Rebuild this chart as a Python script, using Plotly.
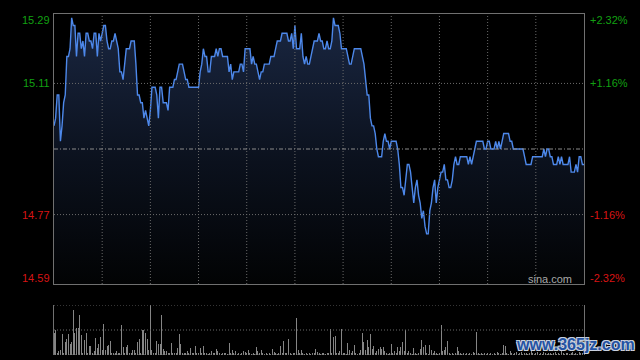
import plotly.graph_objects as go

# ---------------- data ----------------
prices = [
    15.00, 15.02, 15.08, 15.08, 14.96, 15.00, 15.06, 15.08, 15.18, 15.18,
    15.20, 15.28, 15.26, 15.26, 15.18, 15.24, 15.24, 15.20, 15.22, 15.18,
    15.24, 15.24, 15.22, 15.22, 15.20, 15.24, 15.24, 15.18, 15.24, 15.22,
    15.24, 15.26, 15.26, 15.22, 15.20, 15.20, 15.22, 15.22, 15.24, 15.22,
    15.20, 15.14, 15.14, 15.12, 15.16, 15.20, 15.20, 15.20, 15.22, 15.22,
    15.22, 15.16, 15.08, 15.08, 15.06, 15.06, 15.02, 15.04, 15.02, 15.00,
    15.04, 15.10, 15.10, 15.10, 15.08, 15.02, 15.10, 15.10, 15.06, 15.06,
    15.06, 15.04, 15.10, 15.10, 15.10, 15.12, 15.12, 15.14, 15.16, 15.16,
    15.16, 15.14, 15.12, 15.12, 15.10, 15.10, 15.10, 15.10, 15.10, 15.10,
    15.10, 15.14, 15.16, 15.20, 15.18, 15.18, 15.14, 15.14, 15.18, 15.18,
    15.18, 15.20, 15.18, 15.20, 15.20, 15.18, 15.18, 15.18, 15.18, 15.14,
    15.16, 15.12, 15.14, 15.14, 15.14, 15.14, 15.16, 15.16, 15.14, 15.20,
    15.20, 15.20, 15.20, 15.16, 15.18, 15.16, 15.16, 15.14, 15.12, 15.14,
    15.14, 15.16, 15.16, 15.16, 15.16, 15.18, 15.18, 15.18, 15.20, 15.22,
    15.22, 15.22, 15.24, 15.24, 15.24, 15.24, 15.22, 15.22, 15.24, 15.20,
    15.26, 15.20, 15.20, 15.20, 15.24, 15.18, 15.16, 15.18, 15.16, 15.16,
    15.18, 15.20, 15.22, 15.22, 15.22, 15.24, 15.22, 15.22, 15.20, 15.20,
    15.22, 15.20, 15.20, 15.22, 15.28, 15.26, 15.26, 15.26, 15.24, 15.20,
    15.20, 15.20, 15.20, 15.18, 15.16, 15.16, 15.18, 15.20, 15.20, 15.20,
    15.20, 15.20, 15.18, 15.16, 15.12, 15.08, 15.08, 15.02, 15.00, 15.00,
    14.98, 14.94, 14.92, 14.92, 14.92, 14.96, 14.98, 14.96, 14.96, 14.94,
    14.96, 14.96, 14.96, 14.96, 14.94, 14.90, 14.84, 14.84, 14.82, 14.86,
    14.90, 14.90, 14.88, 14.84, 14.80, 14.84, 14.86, 14.82, 14.80, 14.76,
    14.78, 14.74, 14.72, 14.72, 14.78, 14.80, 14.84, 14.86, 14.80, 14.84,
    14.86, 14.88, 14.88, 14.90, 14.86, 14.86, 14.84, 14.84, 14.86, 14.90,
    14.92, 14.90, 14.90, 14.92, 14.92, 14.92, 14.92, 14.92, 14.90, 14.92,
    14.90, 14.92, 14.94, 14.96, 14.96, 14.96, 14.96, 14.96, 14.94, 14.94,
    14.96, 14.96, 14.94, 14.94, 14.94, 14.96, 14.94, 14.96, 14.94, 14.96,
    14.98, 14.98, 14.98, 14.98, 14.96, 14.96, 14.94, 14.94, 14.94, 14.94,
    14.94, 14.94, 14.94, 14.92, 14.90, 14.90, 14.90, 14.90, 14.92, 14.92,
    14.92, 14.92, 14.92, 14.92, 14.92, 14.94, 14.92, 14.94, 14.94, 14.92,
    14.92, 14.90, 14.90, 14.90, 14.92, 14.90, 14.92, 14.90, 14.90, 14.90,
    14.90, 14.92, 14.88, 14.88, 14.88, 14.90, 14.88, 14.92, 14.92, 14.90,
    14.90,
]

volumes = [
    43, 51, 4, 7, 10, 41, 3, 25, 32, 41,
    21, 25, 90, 43, 55, 55, 80, 40, 3, 30,
    43, 3, 18, 18, 3, 7, 33, 13, 21, 36,
    10, 63, 10, 18, 20, 28, 3, 3, 3, 8,
    3, 3, 61, 15, 3, 15, 20, 3, 3, 10,
    10, 3, 25, 32, 3, 51, 51, 43, 32, 10,
    100, 10, 3, 4, 28, 21, 21, 81, 11, 7,
    7, 3, 3, 23, 3, 3, 3, 13, 41, 21,
    3, 3, 3, 8, 3, 13, 3, 3, 17, 3,
    3, 13, 3, 17, 3, 3, 2, 3, 7, 3,
    3, 11, 7, 3, 2, 3, 3, 3, 2, 23,
    3, 10, 3, 7, 2, 3, 2, 3, 7, 5,
    3, 10, 3, 2, 3, 2, 15, 7, 3, 10,
    3, 2, 3, 2, 3, 2, 11, 5, 3, 2,
    3, 17, 3, 28, 3, 3, 32, 3, 2, 3,
    3, 75, 10, 3, 10, 3, 2, 3, 2, 3,
    2, 3, 3, 12, 5, 3, 2, 4, 3, 2,
    3, 3, 53, 3, 35, 38, 3, 3, 8, 53,
    3, 3, 2, 23, 10, 3, 7, 20, 3, 2,
    3, 10, 43, 25, 10, 30, 15, 41, 11, 18,
    3, 8, 11, 15, 11, 15, 7, 3, 2, 3,
    21, 3, 7, 3, 15, 8, 15, 25, 7, 50,
    3, 7, 3, 2, 13, 3, 2, 3, 12, 30,
    15, 19, 3, 2, 19, 10, 3, 8, 3, 2,
    3, 60, 7, 10, 15, 28, 3, 2, 3, 2,
    3, 15, 7, 3, 2, 3, 2, 3, 2, 3,
    2, 5, 3, 47, 3, 2, 3, 2, 3, 2,
    3, 2, 3, 2, 3, 2, 5, 3, 2, 3,
    20, 17, 3, 2, 8, 3, 2, 3, 5, 2,
    3, 6, 2, 3, 4, 2, 3, 8, 3, 2,
    3, 5, 2, 3, 2, 6, 3, 2, 3, 4,
    2, 3, 5, 2, 3, 2, 7, 3, 2, 3,
    4, 2, 3, 5, 2, 3, 2, 6, 3, 4,
    12,
]

minutes = list(range(len(prices)))          # 09:30 .. 16:00 (HK session, 330 min)
session_minutes = 330
grid_minutes = [30, 60, 90, 120, 150, 180, 210, 240, 270, 300]

prev_close = 14.94
price_min, price_max = 14.59, 15.29
price_ticks = [15.29, 15.11, 14.77, 14.59]
price_labels = ["15.29", "15.11", "14.77", "14.59"]
pct_labels = ["+2.32%", "+1.16%", "-1.16%", "-2.32%"]
label_colors = ["#12a012", "#12a012", "#d81414", "#d81414"]
inner_grid = [15.11, 14.77]
vol_max = 100
vol_grid = [0, 50, 100]

# ---------------- figure ----------------
GRID = "#6a6a6a"
BORDER = "#707070"
DOT = "1px,2px"

fig = go.Figure()

fig.add_trace(go.Scatter(
    x=minutes, y=prices, mode="lines",
    line=dict(color="#4d88ea", width=1.4),
    fill="tozeroy",
    fillgradient=dict(type="vertical",
                      colorscale=[[0, "#020304"], [0.45, "#0b111d"], [1, "#1a2742"]],
                      start=price_min, stop=price_max),
    xaxis="x", yaxis="y", hoverinfo="skip", showlegend=False,
))

fig.add_trace(go.Bar(
    x=minutes, y=volumes, width=0.62,
    marker=dict(color="#858585", line=dict(width=0)),
    xaxis="x2", yaxis="y2", hoverinfo="skip", showlegend=False,
))

shapes = []
for m in grid_minutes:
    shapes.append(dict(type="line", xref="x", yref="y", x0=m, x1=m,
                       y0=price_min, y1=price_max,
                       line=dict(color=GRID, width=1, dash=DOT), layer="above"))
for p in inner_grid:
    shapes.append(dict(type="line", xref="x", yref="y", x0=0, x1=session_minutes,
                       y0=p, y1=p, line=dict(color=GRID, width=1, dash=DOT), layer="above"))
shapes.append(dict(type="line", xref="x", yref="y", x0=0, x1=session_minutes,
                   y0=prev_close, y1=prev_close,
                   line=dict(color="#8c8c8c", width=1, dash="4px,2px,1px,2px"), layer="above"))
for v in vol_grid:
    shapes.append(dict(type="line", xref="x2", yref="y2", x0=0, x1=session_minutes,
                       y0=v, y1=v, line=dict(color=GRID, width=1, dash=DOT), layer="above"))

annotations = []
for t, lab, pct, col in zip(price_ticks, price_labels, pct_labels, label_colors):
    shift = -6 if t == price_max else (6 if t == price_min else 0)
    annotations.append(dict(x=0, xref="paper", y=t, yref="y", text=lab, showarrow=False,
                            xanchor="right", yanchor="middle", xshift=-2, yshift=shift,
                            font=dict(family="Liberation Sans, Arial", size=11, color=col)))
    annotations.append(dict(x=1, xref="paper", y=t, yref="y", text=pct, showarrow=False,
                            xanchor="left", yanchor="middle", xshift=4, yshift=shift,
                            font=dict(family="Liberation Sans, Arial", size=11, color=col)))

annotations.append(dict(x=1, xref="paper", y=price_min, yref="y", text="sina.com",
                        showarrow=False, xanchor="right", yanchor="middle",
                        xshift=-10, yshift=5,
                        font=dict(family="Liberation Sans, Arial", size=11, color="#a8a8a8")))

annotations.append(dict(x=0.868, xref="paper", y=0.03, yref="paper", text="www.365jz.com",
                        showarrow=False, xanchor="left", yanchor="middle",
                        font=dict(family="Liberation Sans, Arial", size=16, color="#2453a3",
                                  weight="bold",
                                  shadow="1px 1px 0 #c9d1df, -1px -1px 0 #c9d1df, 1px -1px 0 #c9d1df, -1px 1px 0 #c9d1df")))

fig.update_layout(
    width=640, height=360,
    margin=dict(l=54, r=56, t=14, b=5),
    paper_bgcolor="#000000", plot_bgcolor="#000000",
    showlegend=False,
    xaxis=dict(domain=[0, 1], range=[0, session_minutes], anchor="y",
               showline=True, mirror=True, linecolor=BORDER, linewidth=1,
               showgrid=False, zeroline=False, showticklabels=False, ticks=""),
    yaxis=dict(domain=[0.2082, 1], range=[price_min, price_max], anchor="x",
               showline=True, mirror=True, linecolor=BORDER, linewidth=1,
               showgrid=False, zeroline=False, showticklabels=False, ticks=""),
    xaxis2=dict(domain=[0, 1], range=[0, session_minutes], anchor="y2",
                showline=False, showgrid=False, zeroline=False, showticklabels=False, ticks=""),
    yaxis2=dict(domain=[0, 0.1466], range=[0, vol_max], anchor="x2",
                showline=True, mirror=True, linecolor=BORDER, linewidth=1,
                showgrid=False, zeroline=False, showticklabels=False, ticks=""),
    shapes=shapes,
    annotations=annotations,
    bargap=0,
)

fig.write_html(
    "out.html",
    config={"displayModeBar": False, "staticPlot": True},
    post_script="document.body.style.margin='0';document.body.style.background='#000';document.body.style.overflow='hidden';",
)
